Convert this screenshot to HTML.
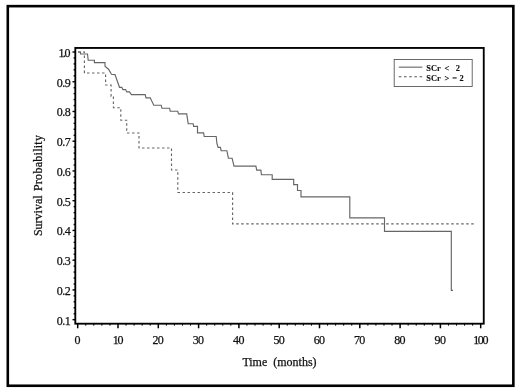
<!DOCTYPE html>
<html><head><meta charset="utf-8"><title>Survival Probability</title>
<style>
html,body{margin:0;padding:0;background:#fff;}
body{width:520px;height:392px;overflow:hidden;position:relative;font-family:"Liberation Serif",serif;}
svg{position:absolute;left:0;top:0;display:block}
svg text{font-family:"Liberation Serif",serif;fill:#111;stroke:#111;stroke-width:0.25px;}
.tl text{font-size:12px;letter-spacing:-0.5px}
.tl text.one{letter-spacing:-1.5px}
.ax{font-size:12px;}
.lg{font-size:8.4px;font-weight:bold;stroke-width:0.1px}
</style></head><body>
<svg width="520" height="392" viewBox="0 0 520 392">
<rect x="0" y="0" width="520" height="392" fill="#fff"/>
<rect x="7.8" y="6.15" width="505.55" height="379.6" fill="none" stroke="#000" stroke-width="2.6"/>
<rect x="75.3" y="47.95" width="408.45" height="275.75" fill="none" stroke="#000" stroke-width="1.85"/>
<g stroke="#000" fill="none">
<line x1="72.5" x2="75.3" y1="319.66" y2="319.66" stroke-width="1.4"/>
<line x1="73.6" x2="75.3" y1="313.71" y2="313.71" stroke-width="1.4"/>
<line x1="73.6" x2="75.3" y1="307.76" y2="307.76" stroke-width="1.4"/>
<line x1="73.6" x2="75.3" y1="301.82" y2="301.82" stroke-width="1.4"/>
<line x1="73.6" x2="75.3" y1="295.87" y2="295.87" stroke-width="1.4"/>
<line x1="72.5" x2="75.3" y1="289.92" y2="289.92" stroke-width="1.4"/>
<line x1="73.6" x2="75.3" y1="283.97" y2="283.97" stroke-width="1.4"/>
<line x1="73.6" x2="75.3" y1="278.02" y2="278.02" stroke-width="1.4"/>
<line x1="73.6" x2="75.3" y1="272.08" y2="272.08" stroke-width="1.4"/>
<line x1="73.6" x2="75.3" y1="266.13" y2="266.13" stroke-width="1.4"/>
<line x1="72.5" x2="75.3" y1="260.18" y2="260.18" stroke-width="1.4"/>
<line x1="73.6" x2="75.3" y1="254.23" y2="254.23" stroke-width="1.4"/>
<line x1="73.6" x2="75.3" y1="248.28" y2="248.28" stroke-width="1.4"/>
<line x1="73.6" x2="75.3" y1="242.34" y2="242.34" stroke-width="1.4"/>
<line x1="73.6" x2="75.3" y1="236.39" y2="236.39" stroke-width="1.4"/>
<line x1="72.5" x2="75.3" y1="230.44" y2="230.44" stroke-width="1.4"/>
<line x1="73.6" x2="75.3" y1="224.49" y2="224.49" stroke-width="1.4"/>
<line x1="73.6" x2="75.3" y1="218.54" y2="218.54" stroke-width="1.4"/>
<line x1="73.6" x2="75.3" y1="212.60" y2="212.60" stroke-width="1.4"/>
<line x1="73.6" x2="75.3" y1="206.65" y2="206.65" stroke-width="1.4"/>
<line x1="72.5" x2="75.3" y1="200.70" y2="200.70" stroke-width="1.4"/>
<line x1="73.6" x2="75.3" y1="194.75" y2="194.75" stroke-width="1.4"/>
<line x1="73.6" x2="75.3" y1="188.80" y2="188.80" stroke-width="1.4"/>
<line x1="73.6" x2="75.3" y1="182.86" y2="182.86" stroke-width="1.4"/>
<line x1="73.6" x2="75.3" y1="176.91" y2="176.91" stroke-width="1.4"/>
<line x1="72.5" x2="75.3" y1="170.96" y2="170.96" stroke-width="1.4"/>
<line x1="73.6" x2="75.3" y1="165.01" y2="165.01" stroke-width="1.4"/>
<line x1="73.6" x2="75.3" y1="159.06" y2="159.06" stroke-width="1.4"/>
<line x1="73.6" x2="75.3" y1="153.12" y2="153.12" stroke-width="1.4"/>
<line x1="73.6" x2="75.3" y1="147.17" y2="147.17" stroke-width="1.4"/>
<line x1="72.5" x2="75.3" y1="141.22" y2="141.22" stroke-width="1.4"/>
<line x1="73.6" x2="75.3" y1="135.27" y2="135.27" stroke-width="1.4"/>
<line x1="73.6" x2="75.3" y1="129.32" y2="129.32" stroke-width="1.4"/>
<line x1="73.6" x2="75.3" y1="123.38" y2="123.38" stroke-width="1.4"/>
<line x1="73.6" x2="75.3" y1="117.43" y2="117.43" stroke-width="1.4"/>
<line x1="72.5" x2="75.3" y1="111.48" y2="111.48" stroke-width="1.4"/>
<line x1="73.6" x2="75.3" y1="105.53" y2="105.53" stroke-width="1.4"/>
<line x1="73.6" x2="75.3" y1="99.58" y2="99.58" stroke-width="1.4"/>
<line x1="73.6" x2="75.3" y1="93.64" y2="93.64" stroke-width="1.4"/>
<line x1="73.6" x2="75.3" y1="87.69" y2="87.69" stroke-width="1.4"/>
<line x1="72.5" x2="75.3" y1="81.74" y2="81.74" stroke-width="1.4"/>
<line x1="73.6" x2="75.3" y1="75.79" y2="75.79" stroke-width="1.4"/>
<line x1="73.6" x2="75.3" y1="69.84" y2="69.84" stroke-width="1.4"/>
<line x1="73.6" x2="75.3" y1="63.90" y2="63.90" stroke-width="1.4"/>
<line x1="73.6" x2="75.3" y1="57.95" y2="57.95" stroke-width="1.4"/>
<line x1="72.5" x2="75.3" y1="52.00" y2="52.00" stroke-width="1.4"/>
<line y1="323.7" y2="328.3" x1="77.70" x2="77.70" stroke-width="1.5"/>
<line y1="323.7" y2="325.7" x1="85.76" x2="85.76" stroke-width="1.0"/>
<line y1="323.7" y2="325.7" x1="93.82" x2="93.82" stroke-width="1.0"/>
<line y1="323.7" y2="325.7" x1="101.88" x2="101.88" stroke-width="1.0"/>
<line y1="323.7" y2="325.7" x1="109.94" x2="109.94" stroke-width="1.0"/>
<line y1="323.7" y2="328.3" x1="118.00" x2="118.00" stroke-width="1.5"/>
<line y1="323.7" y2="325.7" x1="126.06" x2="126.06" stroke-width="1.0"/>
<line y1="323.7" y2="325.7" x1="134.12" x2="134.12" stroke-width="1.0"/>
<line y1="323.7" y2="325.7" x1="142.18" x2="142.18" stroke-width="1.0"/>
<line y1="323.7" y2="325.7" x1="150.24" x2="150.24" stroke-width="1.0"/>
<line y1="323.7" y2="328.3" x1="158.30" x2="158.30" stroke-width="1.5"/>
<line y1="323.7" y2="325.7" x1="166.36" x2="166.36" stroke-width="1.0"/>
<line y1="323.7" y2="325.7" x1="174.42" x2="174.42" stroke-width="1.0"/>
<line y1="323.7" y2="325.7" x1="182.48" x2="182.48" stroke-width="1.0"/>
<line y1="323.7" y2="325.7" x1="190.54" x2="190.54" stroke-width="1.0"/>
<line y1="323.7" y2="328.3" x1="198.60" x2="198.60" stroke-width="1.5"/>
<line y1="323.7" y2="325.7" x1="206.66" x2="206.66" stroke-width="1.0"/>
<line y1="323.7" y2="325.7" x1="214.72" x2="214.72" stroke-width="1.0"/>
<line y1="323.7" y2="325.7" x1="222.78" x2="222.78" stroke-width="1.0"/>
<line y1="323.7" y2="325.7" x1="230.84" x2="230.84" stroke-width="1.0"/>
<line y1="323.7" y2="328.3" x1="238.90" x2="238.90" stroke-width="1.5"/>
<line y1="323.7" y2="325.7" x1="246.96" x2="246.96" stroke-width="1.0"/>
<line y1="323.7" y2="325.7" x1="255.02" x2="255.02" stroke-width="1.0"/>
<line y1="323.7" y2="325.7" x1="263.08" x2="263.08" stroke-width="1.0"/>
<line y1="323.7" y2="325.7" x1="271.14" x2="271.14" stroke-width="1.0"/>
<line y1="323.7" y2="328.3" x1="279.20" x2="279.20" stroke-width="1.5"/>
<line y1="323.7" y2="325.7" x1="287.26" x2="287.26" stroke-width="1.0"/>
<line y1="323.7" y2="325.7" x1="295.32" x2="295.32" stroke-width="1.0"/>
<line y1="323.7" y2="325.7" x1="303.38" x2="303.38" stroke-width="1.0"/>
<line y1="323.7" y2="325.7" x1="311.44" x2="311.44" stroke-width="1.0"/>
<line y1="323.7" y2="328.3" x1="319.50" x2="319.50" stroke-width="1.5"/>
<line y1="323.7" y2="325.7" x1="327.56" x2="327.56" stroke-width="1.0"/>
<line y1="323.7" y2="325.7" x1="335.62" x2="335.62" stroke-width="1.0"/>
<line y1="323.7" y2="325.7" x1="343.68" x2="343.68" stroke-width="1.0"/>
<line y1="323.7" y2="325.7" x1="351.74" x2="351.74" stroke-width="1.0"/>
<line y1="323.7" y2="328.3" x1="359.80" x2="359.80" stroke-width="1.5"/>
<line y1="323.7" y2="325.7" x1="367.86" x2="367.86" stroke-width="1.0"/>
<line y1="323.7" y2="325.7" x1="375.92" x2="375.92" stroke-width="1.0"/>
<line y1="323.7" y2="325.7" x1="383.98" x2="383.98" stroke-width="1.0"/>
<line y1="323.7" y2="325.7" x1="392.04" x2="392.04" stroke-width="1.0"/>
<line y1="323.7" y2="328.3" x1="400.10" x2="400.10" stroke-width="1.5"/>
<line y1="323.7" y2="325.7" x1="408.16" x2="408.16" stroke-width="1.0"/>
<line y1="323.7" y2="325.7" x1="416.22" x2="416.22" stroke-width="1.0"/>
<line y1="323.7" y2="325.7" x1="424.28" x2="424.28" stroke-width="1.0"/>
<line y1="323.7" y2="325.7" x1="432.34" x2="432.34" stroke-width="1.0"/>
<line y1="323.7" y2="328.3" x1="440.40" x2="440.40" stroke-width="1.5"/>
<line y1="323.7" y2="325.7" x1="448.46" x2="448.46" stroke-width="1.0"/>
<line y1="323.7" y2="325.7" x1="456.52" x2="456.52" stroke-width="1.0"/>
<line y1="323.7" y2="325.7" x1="464.58" x2="464.58" stroke-width="1.0"/>
<line y1="323.7" y2="325.7" x1="472.64" x2="472.64" stroke-width="1.0"/>
<line y1="323.7" y2="328.3" x1="480.70" x2="480.70" stroke-width="1.5"/>
</g>
<g class="tl">
<text x="70.2" y="324.66" text-anchor="end">0.1</text>
<text x="70.2" y="294.92" text-anchor="end">0.2</text>
<text x="70.2" y="265.18" text-anchor="end">0.3</text>
<text x="70.2" y="235.44" text-anchor="end">0.4</text>
<text x="70.2" y="205.70" text-anchor="end">0.5</text>
<text x="70.2" y="175.96" text-anchor="end">0.6</text>
<text x="70.2" y="146.22" text-anchor="end">0.7</text>
<text x="70.2" y="116.48" text-anchor="end">0.8</text>
<text x="70.2" y="86.74" text-anchor="end">0.9</text>
<text x="69.0" y="57.00" text-anchor="end" class="one">1.0</text>
<text x="77.20" y="343.8" text-anchor="middle" style="letter-spacing:-0.7px">0</text>
<text x="117.50" y="343.8" text-anchor="middle" style="letter-spacing:-1.2px">10</text>
<text x="157.80" y="343.8" text-anchor="middle" style="letter-spacing:-0.7px">20</text>
<text x="198.10" y="343.8" text-anchor="middle" style="letter-spacing:-0.7px">30</text>
<text x="238.40" y="343.8" text-anchor="middle" style="letter-spacing:-0.7px">40</text>
<text x="278.70" y="343.8" text-anchor="middle" style="letter-spacing:-0.7px">50</text>
<text x="319.00" y="343.8" text-anchor="middle" style="letter-spacing:-0.7px">60</text>
<text x="359.30" y="343.8" text-anchor="middle" style="letter-spacing:-0.7px">70</text>
<text x="399.60" y="343.8" text-anchor="middle" style="letter-spacing:-0.7px">80</text>
<text x="439.90" y="343.8" text-anchor="middle" style="letter-spacing:-0.7px">90</text>
<text x="480.20" y="343.8" text-anchor="middle" style="letter-spacing:-1.3px">100</text>
</g>
<text class="ax" x="279.5" y="366.3" text-anchor="middle" xml:space="preserve" style="white-space:pre">Time  (months)</text>
<text class="ax" transform="translate(42.1,185.5) rotate(-90)"><tspan x="-50.6">Survival</tspan> <tspan x="-5.6" style="letter-spacing:0.27px">Probability</tspan></text>
<path d="M78,52 H80.5 V54 H87.5 L88.2,60.2 H94.4 V62.6 H105 V66.2 L108.5,69.2 L111.5,74.2 L115,74.6 L119.5,87.3 H121.8 L122.9,89.6 H125.6 L126.8,91.9 H129.5 L131.4,94.6 H145.2 L146,97.8 H150.2 L153.8,105.2 H161.2 L161.9,108.2 H169.6 L170.2,111.2 H177.7 L178.5,113.8 H186.7 L188.2,123.7 H193.2 L193.6,126.4 H197.5 V132.9 H203.6 L204.2,136.5 H216.2 L216.9,143.5 L218.1,147.3 H220.4 L221.2,150.7 H226.9 L228.4,158.2 H232.1 L234,166.1 H255.9 L256.7,170.1 H260.9 L261.4,174.7 H272.2 V179.3 H293.7 V184.6 H297.5 V190.5 H301 V196.8 H349.8 V217.8 H384.5 V231.3 H451.3 V290.3 H453" fill="none" stroke="#666" stroke-width="1.15"/>
<path d="M78,52 H84.4 V73 H105.6 V85 H111.1 V96.3 H113.4 V107.7 H120.8 V120.2 H126.7 V133 H139 V148 H171.5 V170 H177.8 V192.5 H232.6 V223.8 H474" fill="none" stroke="#666" stroke-width="1.15" stroke-dasharray="2.5 2.5"/>
<rect x="394.2" y="59.5" width="78" height="27" fill="#fff" stroke="#5a5a5a" stroke-width="0.9"/>
<line x1="398.8" x2="422.3" y1="67.15" y2="67.15" stroke="#555" stroke-width="1"/>
<line x1="398.8" x2="422.3" y1="76.75" y2="76.75" stroke="#555" stroke-width="1" stroke-dasharray="2.6 2.6"/>
<text class="lg" y="71"><tspan x="426.3">SCr</tspan> <tspan x="444.6">&lt;</tspan> <tspan x="455.8">2</tspan></text>
<text class="lg" y="81.2"><tspan x="426.3">SCr</tspan> <tspan x="444.6">&gt;</tspan> <tspan x="452.2">=</tspan> <tspan x="459.6">2</tspan></text>
</svg>
</body></html>
